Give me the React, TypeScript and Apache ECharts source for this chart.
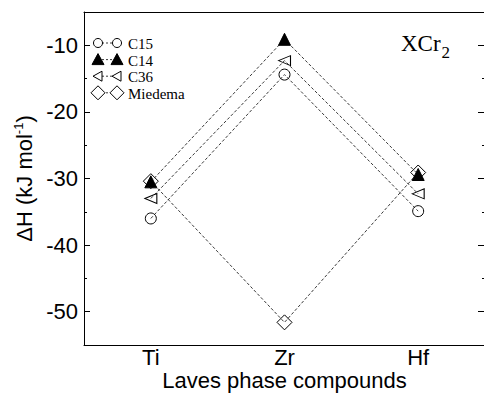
import React, { useEffect, useRef } from "react";
import * as echarts from "echarts";

const categories = ["Ti", "Zr", "Hf"];
const c15 = [-36.0, -14.4, -34.9];
const c14 = [-30.5, -9.1, -29.4];
const c36 = [-33.0, -12.3, -32.3];
const miedema = [-30.4, -51.6, -29.1];
const legendNames = ["C15", "C14", "C36", "Miedema"];

const SANS = "'Liberation Sans', Arial, sans-serif";
const SERIF = "'Liberation Serif', 'Times New Roman', serif";
const LINE = { color: "#222", width: 0.9, type: [3, 2] as number[] };
const LEG_Y0 = 43;
const LEG_STEP = 16.6;

function legendEntry(i: number, name: string) {
  const y = LEG_Y0 + i * LEG_STEP;
  const x1 = 98, x2 = 117;
  const children: any[] = [
    { type: "line", shape: { x1, y1: y, x2, y2: y }, style: { stroke: "#222", lineWidth: 0.9, lineDash: [2, 2] } },
  ];
  const mk = (cx: number) => {
    if (name === "C15") return { type: "circle", shape: { cx, cy: y, r: 4.5 }, style: { fill: "#fff", stroke: "#000", lineWidth: 1 } };
    if (name === "C14") return { type: "polygon", shape: { points: [[cx, y - 6], [cx - 6, y + 5], [cx + 6, y + 5]] }, style: { fill: "#000", stroke: "#000" } };
    if (name === "C36") return { type: "polygon", shape: { points: [[cx - 5, y], [cx + 4, y - 5], [cx + 4, y + 5]] }, style: { fill: "#fff", stroke: "#000", lineWidth: 1 } };
    return { type: "polygon", shape: { points: [[cx, y - 7], [cx + 7, y], [cx, y + 7], [cx - 7, y]] }, style: { fill: "#fff", stroke: "#000", lineWidth: 1 } };
  };
  children.push(mk(x1), mk(x2));
  children.push({ type: "text", style: { x: 128, y: y + 1, text: name, font: `15px ${SERIF}`, fill: "#000", verticalAlign: "middle" } });
  return { type: "group", children };
}

export default function App() {
  const ref = useRef<HTMLDivElement>(null);
  useEffect(() => {
    if (!ref.current) return;
    const chart = echarts.init(ref.current, undefined, { renderer: "svg" });
    const openStyle = { color: "rgba(255,255,255,0)", borderColor: "#000", borderWidth: 1 };
    chart.setOption({
      animation: false,
      backgroundColor: "#fff",
      grid: { left: 84, right: -1, top: 12, bottom: 48, outerBoundsMode: "none", containLabel: false },
      xAxis: [
        {
          type: "category",
          data: categories,
          position: "bottom",
          boundaryGap: true,
          axisLine: { lineStyle: { color: "#000", width: 1 } },
          axisTick: { inside: true, alignWithLabel: true, length: 8, lineStyle: { color: "#000" } },
          axisLabel: { color: "#000", fontFamily: SANS, fontSize: 22, lineHeight: 20, margin: 2 },
          name: "Laves phase compounds",
          nameLocation: "middle",
          nameGap: 24,
          nameMoveOverlap: false,
          nameTextStyle: { color: "#000", fontFamily: SANS, fontSize: 22, lineHeight: 22, verticalAlign: "top" },
        },
        {
          type: "category",
          data: categories,
          position: "top",
          boundaryGap: true,
          axisLine: { lineStyle: { color: "#000", width: 1 } },
          axisTick: { inside: true, alignWithLabel: true, length: 8, lineStyle: { color: "#000" } },
          axisLabel: { show: false },
        },
      ],
      yAxis: [
        {
          type: "value",
          min: -55,
          max: -5,
          splitNumber: 5,
          splitLine: { show: false },
          axisLine: { show: true, lineStyle: { color: "#000", width: 1 } },
          axisTick: { show: true, inside: true, length: 6, lineStyle: { color: "#000" } },
          minorTick: { show: true, splitNumber: 2, length: 3, lineStyle: { color: "#000" } },
          axisLabel: { color: "#000", fontFamily: SANS, fontSize: 22, margin: 6, showMinLabel: false, showMaxLabel: false },
          name: "ΔH (kJ mol{sup|-1})",
          nameLocation: "middle",
          nameGap: 47,
          nameMoveOverlap: false,
          nameTextStyle: {
            color: "#000",
            fontFamily: SANS,
            fontSize: 22,
            rich: { sup: { fontSize: 13, fontFamily: SANS, color: "#000", verticalAlign: "top", padding: [0, 0, 12, 0] } },
          },
        },
        {
          type: "value",
          position: "right",
          min: -55,
          max: -5,
          splitNumber: 5,
          splitLine: { show: false },
          axisLine: { show: true, lineStyle: { color: "#000", width: 1 } },
          axisTick: { show: true, inside: true, length: 7, lineStyle: { color: "#000" } },
          minorTick: { show: true, splitNumber: 2, length: 3, lineStyle: { color: "#000" } },
          axisLabel: { show: false },
        },
      ],
      series: [
        { name: legendNames[3], type: "line", data: miedema, symbol: "diamond", symbolSize: 15, itemStyle: openStyle, lineStyle: LINE, z: 2 },
        { name: legendNames[0], type: "line", data: c15, symbol: "circle", symbolSize: 11, itemStyle: openStyle, lineStyle: LINE, z: 3 },
        { name: legendNames[2], type: "line", data: c36, symbol: "triangle", symbolRotate: 90, symbolSize: [10, 12], itemStyle: openStyle, lineStyle: LINE, z: 3 },
        { name: legendNames[1], type: "line", data: c14, symbol: "triangle", symbolSize: 12, itemStyle: { color: "#000", borderColor: "#000" }, lineStyle: LINE, z: 4 },
      ],
      graphic: [
        ...legendNames.map((n, i) => legendEntry(i, n)),
        {
          type: "text",
          style: {
            x: 401,
            y: 43,
            text: "XCr{sub|2}",
            font: `23px ${SERIF}`,
            fill: "#000",
            verticalAlign: "middle",
            rich: { sub: { fontSize: 17, fontFamily: SERIF, fill: "#000", padding: [18, 0, 0, 1] } },
          },
        },
      ],
    });
    return () => chart.dispose();
  }, []);
  return <div ref={ref} style={{ position: "fixed", left: 0, top: 0, width: 484, height: 393 }} />;
}
